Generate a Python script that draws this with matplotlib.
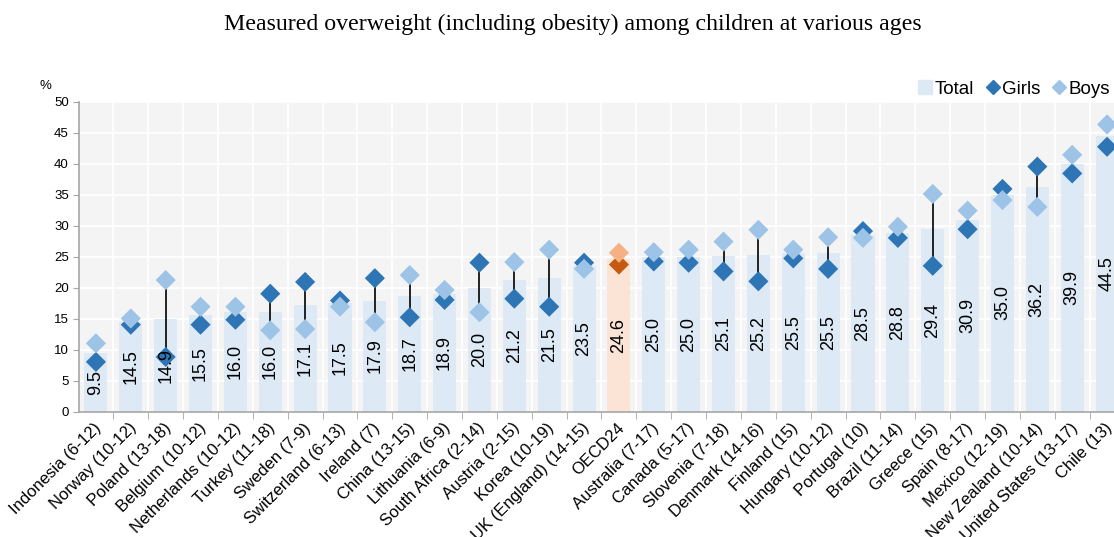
import numpy as np
import matplotlib
matplotlib.use("Agg")
from matplotlib import pyplot as plt
from matplotlib.lines import Line2D
from matplotlib.transforms import ScaledTranslation

plt.rcParams['font.family'] = ['Liberation Sans', 'DejaVu Sans']

# Data
countries = ['Indonesia (6-12)', 'Norway (10-12)', 'Poland (13-18)', 'Belgium (10-12)',
             'Netherlands (10-12)', 'Turkey (11-18)', 'Sweden (7-9)', 'Switzerland (6-13)',
             'Ireland (7)', 'China (13-15)', 'Lithuania (6-9)', 'South Africa (2-14)',
             'Austria (2-15)', 'Korea (10-19)', 'UK (England) (14-15)', 'OECD24',
             'Australia (7-17)', 'Canada (5-17)', 'Slovenia (7-18)', 'Denmark (14-16)',
             'Finland (15)', 'Hungary (10-12)', 'Portugal (10)', 'Brazil (11-14)',
             'Greece (15)', 'Spain (8-17)', 'Mexico (12-19)', 'New Zealand (10-14)',
             'United States (13-17)', 'Chile (13)']
total = [9.5, 14.5, 14.9, 15.5, 16.0, 16.0, 17.1, 17.5, 17.9, 18.7, 18.9, 20.0, 21.2, 21.5,
         23.5, 24.6, 25.0, 25.0, 25.1, 25.2, 25.5, 25.5, 28.5, 28.8, 29.4, 30.9, 35.0, 36.2,
         39.9, 44.5]
girls = [8.0, 14.0, 8.8, 14.0, 14.8, 19.0, 20.9, 17.9, 21.5, 15.2, 18.0, 24.0, 18.2, 16.9,
         24.0, 23.7, 24.2, 24.0, 22.6, 21.0, 24.7, 23.0, 29.1, 28.0, 23.5, 29.4, 35.9, 39.5,
         38.4, 42.7]
boys = [11.0, 15.0, 21.2, 16.9, 16.9, 13.1, 13.3, 16.9, 14.4, 22.0, 19.6, 16.0, 24.1, 26.1,
        23.0, 25.6, 25.7, 26.1, 27.4, 29.3, 26.1, 28.1, 28.0, 29.8, 35.1, 32.4, 34.1, 33.0,
        41.4, 46.3]
# gaps marked with a connecting line in the original
significant = ['Poland (13-18)', 'Turkey (11-18)', 'Sweden (7-9)', 'Ireland (7)', 'China (13-15)',
               'South Africa (2-14)', 'Austria (2-15)', 'Korea (10-19)', 'Slovenia (7-18)',
               'Denmark (14-16)', 'Hungary (10-12)', 'Greece (15)', 'New Zealand (10-14)']

bar_blue = '#DDEAF6'
bar_orange = '#FBE4D5'
dark_blue = '#2E75B6'
light_blue = '#9DC3E6'
dark_orange = '#C55A11'
light_orange = '#F4B183'

W, H = 1114, 537
fig = plt.figure(figsize=(W / 100, H / 100), dpi=100)
ax = fig.add_axes([78.5 / W, 125.5 / H, 1046 / W, 310 / H])
ax.set_facecolor('#F4F4F4')

x = np.arange(len(countries))
is_oecd = np.array([c == 'OECD24' for c in countries])
bar_cols = [bar_orange if o else bar_blue for o in is_oecd]
ax.bar(x, total, width=0.66, color=bar_cols, zorder=2)

for i, c in enumerate(countries):
    if c in significant:
        ax.plot([i, i], [girls[i], boys[i]], color='black', lw=1.2, zorder=3)
    ax.text(i, total[i] / 2, f'{total[i]:.1f}', rotation=90, ha='center', va='center',
            fontsize=13, color='black', zorder=5)

g_cols = [dark_orange if o else dark_blue for o in is_oecd]
b_cols = [light_orange if o else light_blue for o in is_oecd]
ax.scatter(x, girls, marker='D', s=105, c=g_cols, linewidths=0, zorder=4)
ax.scatter(x, boys, marker='D', s=105, c=b_cols, linewidths=0, zorder=4)

ax.set_xlim(-0.5, len(countries) - 0.5)
ax.set_ylim(0, 50)
ax.set_yticks(np.arange(0, 51, 5))
ax.set_xticks(x)
ax.set_xticklabels([])
# rotated category labels, ending just under each bar like the original
lbl_tr = ax.get_xaxis_transform() + ScaledTranslation(3 / 100, -14 / 100, fig.dpi_scale_trans)
for i, c in enumerate(countries):
    ax.text(i, 0, c, transform=lbl_tr, rotation=45, ha='right', va='center',
            rotation_mode='anchor', fontsize=12, clip_on=False)
ax.set_xticks(x[:-1] + 0.5, minor=True)
ax.tick_params(axis='x', which='major', length=0)
ax.tick_params(axis='x', which='minor', length=5, color='#A6A6A6')
ax.tick_params(axis='y', length=4, color='#A6A6A6', labelsize=9.5, pad=3)
ax.grid(axis='y', color='white', lw=1.2, zorder=1)
ax.grid(axis='x', which='minor', color='white', lw=1.2, zorder=1)
ax.set_axisbelow(True)
for s in ['top', 'right']:
    ax.spines[s].set_visible(False)
for s in ['left', 'bottom']:
    ax.spines[s].set_color('#A6A6A6')
    ax.spines[s].set_linewidth(1.2)

fig.text(45 / W, 1 - 86 / H, '%', fontsize=9.5, ha='center', va='center')
fig.text(573 / W, 1 - 24 / H, 'Measured overweight (including obesity) among children at various ages',
         family='Liberation Serif', fontsize=17.2, ha='center', va='center')

handles = [Line2D([], [], ls='none', marker='s', ms=10, color=bar_blue),
           Line2D([], [], ls='none', marker='D', ms=7.5, color=dark_blue),
           Line2D([], [], ls='none', marker='D', ms=7.5, color=light_blue)]
fig.legend(handles, ['Total', 'Girls', 'Boys'], loc='center right', ncol=3, frameon=False,
           bbox_to_anchor=(1110 / W, 1 - 89 / H), fontsize=13.5, handlelength=0.8,
           handletextpad=0.1, columnspacing=0.6, borderpad=0, borderaxespad=0)

fig.savefig('out.png', dpi=100)
